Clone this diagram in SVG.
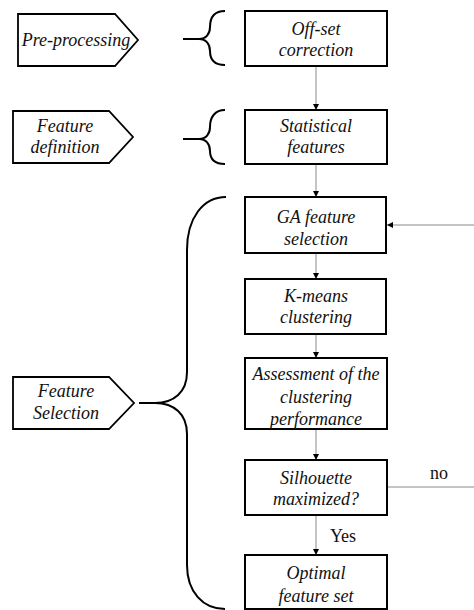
<svg xmlns="http://www.w3.org/2000/svg" width="474" height="610" viewBox="0 0 474 610">
<defs>
<style>
.box{fill:#fff;stroke:#000;stroke-width:2}
.tag{fill:#fff;stroke:#000;stroke-width:1.8}
.brace{fill:none;stroke:#000;stroke-width:2}
.conn{fill:none;stroke:#8a8a8a;stroke-width:1}
.t{font-family:"Liberation Serif","Times New Roman",serif;font-size:18px;font-style:italic;fill:#111;text-anchor:middle}
.l{font-family:"Liberation Serif","Times New Roman",serif;font-size:18px;fill:#111;text-anchor:middle}
</style>
<marker id="ah" viewBox="0 0 10 10" refX="10" refY="5" markerWidth="6" markerHeight="6" orient="auto" markerUnits="userSpaceOnUse">
<path d="M0,0 L10,5 L0,10 z" fill="#000"/>
</marker>
</defs>
<rect width="474" height="610" fill="#fff"/>
<g id="connectors">
<line class="conn" x1="316" y1="67" x2="316" y2="110" marker-end="url(#ah)"/>
<line class="conn" x1="316" y1="165" x2="316" y2="197" marker-end="url(#ah)"/>
<line class="conn" x1="316" y1="254" x2="316" y2="279" marker-end="url(#ah)"/>
<line class="conn" x1="316" y1="335" x2="316" y2="358" marker-end="url(#ah)"/>
<line class="conn" x1="316" y1="430" x2="316" y2="460" marker-end="url(#ah)"/>
<line class="conn" x1="316" y1="516" x2="316" y2="555" marker-end="url(#ah)"/>
<line class="conn" x1="387" y1="487" x2="474" y2="487"/>
<line class="conn" x1="474" y1="225" x2="387" y2="225" marker-end="url(#ah)"/>
<text class="l" x="439" y="479">no</text>
<text class="l" x="343" y="542">Yes</text>
</g>
<g id="braces">
<path class="brace" d="M183,39 H199 C206,39 210,34 210,27 C210,17 215,11 225,11 M199,39 C206,39 210,44 210,51 C210,60 215,65 225,65"/>
<path class="brace" d="M183,139 H199 C206,139 210,134 210,127 C210,117 215,110 225,110 M199,139 C206,139 210,144 210,151 C210,160 215,164 225,164"/>
<path class="brace" d="M139,403 H155 C174,403 187,392 187,372 V250 C187,218 203,197 226,197 M155,403 C174,403 187,414 187,434 V565 C187,592 203,609 225,609"/>
</g>
<g id="pre-processing">
<path class="tag" d="M18,14 H115 L138,40 L115,66 H18 Z"/>
<text class="t" x="76" y="46">Pre-processing</text>
</g>
<g id="feature-definition">
<path class="tag" d="M13,111 H109 L133,137 L109,163 H13 Z"/>
<text class="t" x="65" y="132">Feature</text>
<text class="t" x="65" y="153">definition</text>
</g>
<g id="feature-selection">
<path class="tag" d="M13,377 H109 L134,403 L109,429 H13 Z"/>
<text class="t" x="66" y="397">Feature</text>
<text class="t" x="66" y="419">Selection</text>
</g>
<g id="offset">
<rect class="box" x="245" y="11" width="142" height="55"/>
<text class="t" x="316" y="35">Off-set</text>
<text class="t" x="316" y="56">correction</text>
</g>
<g id="statistical">
<rect class="box" x="245" y="110" width="142" height="54"/>
<text class="t" x="316" y="132">Statistical</text>
<text class="t" x="316" y="153">features</text>
</g>
<g id="ga">
<rect class="box" x="245" y="197" width="141" height="56"/>
<text class="t" x="316" y="223">GA feature</text>
<text class="t" x="316" y="245">selection</text>
</g>
<g id="kmeans">
<rect class="box" x="245" y="279" width="141" height="55"/>
<text class="t" x="316" y="302">K-means</text>
<text class="t" x="316" y="323">clustering</text>
</g>
<g id="assessment">
<rect class="box" x="245" y="358" width="142" height="71"/>
<text class="t" x="316" y="380">Assessment of the</text>
<text class="t" x="316" y="403">clustering</text>
<text class="t" x="316" y="425">performance</text>
</g>
<g id="silhouette">
<rect class="box" x="245" y="460" width="142" height="55"/>
<text class="t" x="316" y="484">Silhouette</text>
<text class="t" x="316" y="505">maximized?</text>
</g>
<g id="optimal">
<rect class="box" x="245" y="555" width="142" height="54"/>
<text class="t" x="316" y="579">Optimal</text>
<text class="t" x="316" y="602">feature set</text>
</g>
</svg>
